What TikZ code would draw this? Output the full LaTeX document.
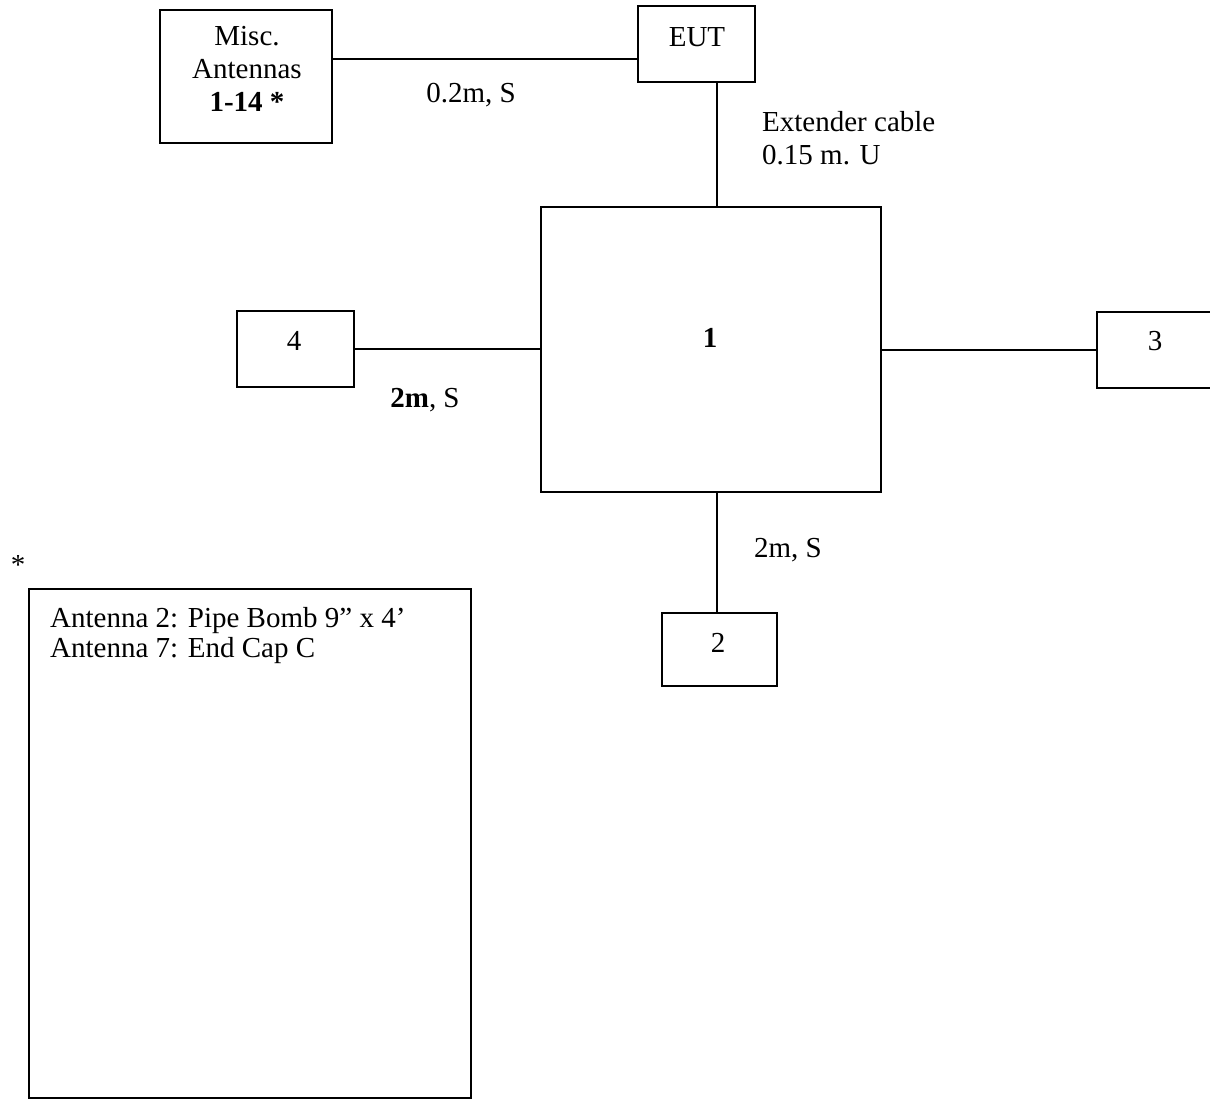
\documentclass[tikz,border=0pt]{standalone}
\usepackage{fontspec}
\setmainfont{Liberation Serif}
\begin{document}
\begin{tikzpicture}[x=1pt,y=-1pt,
  box/.style={draw,line width=1.7pt,inner sep=0pt},
  lbl/.style={inner sep=0pt,anchor=base},
  lbw/.style={inner sep=0pt,anchor=base west},
  wire/.style={line width=1.7pt},
  every node/.style={font=\fontsize{29}{32}\selectfont}]
\useasboundingbox (0,0) rectangle (1210,1099);
% boxes
\node[box,minimum width=172pt,minimum height=133pt] (misc) at (246,76.5) {};
\node[box,minimum width=117pt,minimum height=76pt] (eut) at (696.5,44) {};
\node[box,minimum width=340pt,minimum height=285pt] (main) at (711,349.5) {};
\node[box,minimum width=117pt,minimum height=76pt] (b4) at (295.5,349) {};
\node[box,minimum width=116pt,minimum height=76pt] (b3) at (1155,350) {};
\node[box,minimum width=115pt,minimum height=73pt] (b2) at (719.5,649.5) {};
\node[box,minimum width=442pt,minimum height=509pt] (note) at (250,843.5) {};
% box texts
\node[lbl] (m1) at (247,46) {Misc.};
\node[lbl] (m2) at (247,79) {Antennas};
\node[lbl] (m3) at (247,112) {\textbf{1-14 *}};
\node[lbl] (teut) at (697,47) {EUT};
\node[lbl] (tmain) at (710,348) {\textbf{1}};
\node[lbl] (t4) at (294,350) {4};
\node[lbl] (t3) at (1155,350) {3};
\node[lbl] (t2) at (718,652) {2};
% coordinates for wires
\coordinate (cx) at (717,0);
\coordinate (cy) at (0,59);
% wires
\draw[wire] (misc.east |- cy) -- (eut.west |- cy);
\draw[wire] (eut.south -| cx) -- (main.north -| cx);
\draw[wire] (b4.east) -- (b4.east -| main.west);
\draw[wire] (main.east |- b3.west) -- (b3.west);
\draw[wire] (main.south -| cx) -- (b2.north -| cx);
% labels
\node[lbl] (l1) at (471,103) {0.2m, S};
\node[lbw] (l2) at (762,132) {Extender cable};
\node[lbw] (l3) at (762,165) {0.15 m. U};
\node[lbl] (l4) at (425,407) {\textbf{2m}, S};
\node[lbl] (l5) at (788,557) {2m, S};
\node[lbl] (star) at (18,574) {*};
\node[lbw] (n1) at (50,627) {Antenna 2: Pipe Bomb 9'' x 4'};
\node[lbw] (n2) at (50,657) {Antenna 7: End Cap C};
\end{tikzpicture}
\end{document}
